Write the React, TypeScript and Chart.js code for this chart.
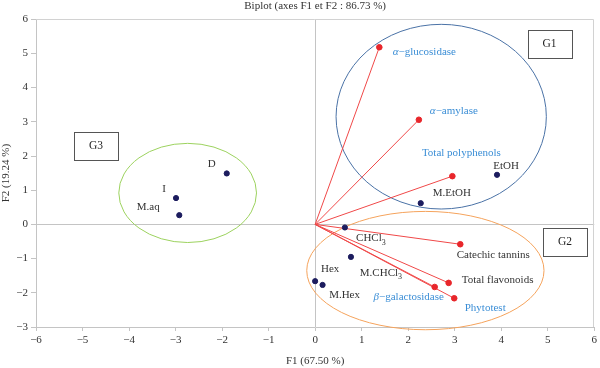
import React, { useEffect, useRef } from 'react';
import { Chart, registerables } from 'chart.js';

Chart.register(...registerables);

// ---------- data ----------
const TITLE = 'Biplot (axes F1 et F2 : 86.73 %)';
const X_TITLE = 'F1 (67.50 %)';
const Y_TITLE = 'F2 (19.24 %)';

const obsNames = ['D', 'I', 'M.aq', 'EtOH', 'M.EtOH', 'CHCl3', 'M.CHCl3', 'Hex', 'M.Hex'];
const obsF1 = [-1.9, -2.99, -2.92, 3.91, 2.27, 0.64, 0.77, 0.0, 0.16];
const obsF2 = [1.49, 0.77, 0.27, 1.45, 0.62, -0.09, -0.95, -1.66, -1.77];

const varNames = ['α-glucosidase', 'α-amylase', 'Total polyphenols', 'Catechic tannins', 'Total flavonoids', 'β-galactosidase', 'Phytotest'];
const varF1 = [1.38, 2.23, 2.95, 3.12, 2.87, 2.57, 2.99];
const varF2 = [5.18, 3.06, 1.41, -0.58, -1.71, -1.83, -2.16];

const groupNames = ['G1', 'G2', 'G3'];
const groupCenterF1 = [2.71, 2.37, -2.74];
const groupCenterF2 = [3.15, -1.35, 0.92];
const groupRadiusF1 = [2.26, 2.55, 1.48];
const groupRadiusF2 = [2.7, 1.73, 1.45];
const groupBoxF1 = [5.04, 5.37, -4.71];
const groupBoxF2 = [5.28, -0.52, 2.28];

const X_MIN = -6, X_MAX = 6, Y_MIN = -3, Y_MAX = 6;

// ---------- styles ----------
const FONT = '"Liberation Serif", "Times New Roman", serif';
const TEXT = '#333333';
const BLUE_TEXT = '#3b8ed6';
const NAVY = '#1c1c5e';
const RED = '#e8262b';
const RED_LINE = '#f04848';
const GRAY = '#c4c4c4';
const GROUP_COLORS = ['#4a72a6', '#f5a35c', '#9cd25e'];
const obsOffsets: [number, number][] = [
  [-15, -9], [-12, -9], [-31, -8], [9, -9], [31, -10], [26, 11], [30, 16], [15, -12], [22, 10],
];
const varOffsets: [number, number][] = [
  [45, 5], [35, -9], [9, -23], [33, 11], [49, -3], [-26, 10], [31, 10],
];
const varBlue = [true, true, true, false, false, true, true];

type Seg = { t: string; it?: boolean; sub?: boolean };
function toSegments(name: string): Seg[] {
  if (name.endsWith('CHCl3')) return [{ t: name.slice(0, -1) }, { t: '3', sub: true }];
  if (name[0] === 'α' || name[0] === 'β') return [{ t: name[0], it: true }, { t: name.slice(1).replace('-', '−') }];
  return [{ t: name }];
}

function drawLabel(ctx: CanvasRenderingContext2D, name: string, cx: number, cy: number, color: string) {
  const segs = toSegments(name);
  const fontFor = (s: Seg) => `${s.it ? 'italic ' : ''}${s.sub ? 8 : 11}px ${FONT}`;
  let w = 0;
  segs.forEach((s) => { ctx.font = fontFor(s); w += ctx.measureText(s.t).width; });
  let xx = cx - w / 2;
  ctx.fillStyle = color;
  ctx.textBaseline = 'middle';
  ctx.textAlign = 'left';
  segs.forEach((s) => {
    ctx.font = fontFor(s);
    ctx.fillText(s.t, xx, cy + (s.sub ? 4 : 0));
    xx += ctx.measureText(s.t).width;
  });
}

const annotPlugin = {
  id: 'annot',
  beforeDatasetsDraw(chart: any) {
    const { ctx, scales: { x, y } } = chart;
    ctx.save();
    groupNames.forEach((_g, i) => {
      const cx = x.getPixelForValue(groupCenterF1[i]);
      const cy = y.getPixelForValue(groupCenterF2[i]);
      const rx = Math.abs(x.getPixelForValue(groupCenterF1[i] + groupRadiusF1[i]) - cx);
      const ry = Math.abs(y.getPixelForValue(groupCenterF2[i] + groupRadiusF2[i]) - cy);
      ctx.beginPath();
      ctx.ellipse(cx, cy, rx, ry, 0, 0, Math.PI * 2);
      ctx.strokeStyle = GROUP_COLORS[i];
      ctx.lineWidth = 1;
      ctx.stroke();
    });
    ctx.restore();
  },
  afterDatasetsDraw(chart: any) {
    const { ctx, chartArea: a, scales: { x, y } } = chart;
    ctx.save();
    ctx.strokeStyle = '#d2d2d2';
    ctx.lineWidth = 1;
    ctx.beginPath();
    ctx.moveTo(a.left, Math.round(a.top) + 0.5);
    ctx.lineTo(Math.round(a.right) - 0.5, Math.round(a.top) + 0.5);
    ctx.lineTo(Math.round(a.right) - 0.5, a.bottom);
    ctx.stroke();

    groupNames.forEach((g, i) => {
      const cx = x.getPixelForValue(groupBoxF1[i]);
      const cy = y.getPixelForValue(groupBoxF2[i]);
      const bw = 44, bh = 28;
      const l = Math.round(cx - bw / 2) + 0.5, t = Math.round(cy - bh / 2) + 0.5;
      ctx.fillStyle = '#ffffff';
      ctx.fillRect(l, t, bw, bh);
      ctx.strokeStyle = '#555555';
      ctx.lineWidth = 1;
      ctx.strokeRect(l, t, bw, bh);
      ctx.fillStyle = '#222222';
      ctx.font = `11.5px ${FONT}`;
      ctx.textAlign = 'center';
      ctx.textBaseline = 'middle';
      ctx.fillText(g, cx, cy);
    });

    obsNames.forEach((n, i) => {
      const px = x.getPixelForValue(obsF1[i]);
      const py = y.getPixelForValue(obsF2[i]);
      drawLabel(ctx, n, px + obsOffsets[i][0], py + obsOffsets[i][1], TEXT);
    });
    varNames.forEach((n, i) => {
      const px = x.getPixelForValue(varF1[i]);
      const py = y.getPixelForValue(varF2[i]);
      drawLabel(ctx, n, px + varOffsets[i][0], py + varOffsets[i][1], varBlue[i] ? BLUE_TEXT : TEXT);
    });
    ctx.restore();
  },
};

export default function App() {
  const ref = useRef<HTMLCanvasElement>(null);
  useEffect(() => {
    if (!ref.current) return;
    const lineSets = varNames.map((n, i) => ({
      label: n,
      data: [{ x: 0, y: 0 }, { x: varF1[i], y: varF2[i] }],
      showLine: true,
      borderColor: RED_LINE,
      borderWidth: 1,
      pointRadius: 0,
      order: 2,
    }));
    const chart = new Chart(ref.current, {
      type: 'scatter',
      data: {
        datasets: [
          {
            label: 'Observations',
            data: obsF1.map((v, i) => ({ x: v, y: obsF2[i] })),
            backgroundColor: NAVY,
            borderColor: NAVY,
            pointRadius: 2.6,
            order: 0,
          },
          {
            label: 'Variables',
            data: varF1.map((v, i) => ({ x: v, y: varF2[i] })),
            backgroundColor: RED,
            borderColor: RED,
            pointRadius: 2.8,
            order: 1,
          },
          ...lineSets,
        ],
      },
      options: {
        responsive: false,
        animation: false,
        layout: { padding: { left: 0, right: 3, top: 0, bottom: 0 } },
        plugins: {
          legend: { display: false },
          tooltip: { enabled: false },
          title: {
            display: true,
            fullSize: false,
            text: TITLE,
            color: TEXT,
            font: { family: FONT, size: 11, weight: 'normal' },
            padding: { top: 0, bottom: 6 },
          },
        },
        scales: {
          x: {
            type: 'linear',
            min: X_MIN,
            max: X_MAX,
            afterFit: (s: any) => { s.height = 41; },
            ticks: {
              stepSize: 1,
              color: TEXT,
              font: { family: FONT, size: 11 },
              padding: 3,
              callback: (v: any) => String(v).replace('-', '−'),
            },
            grid: {
              color: (c: any) => (c.tick && c.tick.value === 0 ? GRAY : 'rgba(0,0,0,0)'),
              tickColor: GRAY,
              tickLength: 4,
            },
            border: { color: GRAY },
            title: {
              display: true,
              text: X_TITLE,
              color: TEXT,
              font: { family: FONT, size: 11 },
              padding: 0,
            },
          },
          y: {
            type: 'linear',
            min: Y_MIN,
            max: Y_MAX,
            afterFit: (s: any) => { s.width = 36; },
            ticks: {
              stepSize: 1,
              color: TEXT,
              font: { family: FONT, size: 11 },
              padding: 3,
              callback: (v: any) => String(v).replace('-', '−'),
            },
            grid: {
              color: (c: any) => (c.tick && c.tick.value === 0 ? GRAY : 'rgba(0,0,0,0)'),
              tickColor: GRAY,
              tickLength: 5,
            },
            border: { color: GRAY },
            title: {
              display: true,
              text: Y_TITLE,
              color: TEXT,
              font: { family: FONT, size: 11 },
              padding: 0,
            },
          },
        },
      },
      plugins: [annotPlugin],
    } as any);
    return () => chart.destroy();
  }, []);
  return (
    <div style={{ position: 'fixed', left: 0, top: 0, width: 600, height: 368, background: '#fff' }}>
      <canvas ref={ref} width={600} height={368} />
    </div>
  );
}
